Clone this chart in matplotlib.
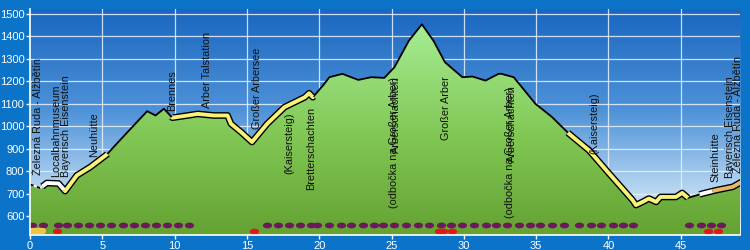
import numpy as np
import matplotlib
matplotlib.use('Agg')
import matplotlib.pyplot as plt
from matplotlib.path import Path
from matplotlib.patches import Polygon
from matplotlib.colors import LinearSegmentedColormap

plt.rcParams['font.family'] = ['Liberation Sans', 'DejaVu Sans']

# ---- data ----
km = [0.0, 0.3, 0.7, 1.16, 1.97, 2.43, 3.24, 4.17, 5.32, 6.0, 7.18, 8.1, 8.68, 9.26,
      9.84, 10.9, 11.6, 12.7, 13.66, 13.9, 14.6, 15.35, 16.4, 17.6, 19.0, 19.3, 19.56,
      20.26, 20.7, 21.6, 22.7, 23.6, 24.5, 25.2, 26.2, 27.1, 27.9, 28.7, 29.9, 30.6,
      31.5, 32.4, 32.6, 33.45, 34.95, 36.1, 37.27, 38.66, 40.05, 41.67, 41.9, 42.36,
      42.8, 43.3, 43.6, 44.67, 45.1, 45.5, 46.5, 47.45, 48.6, 49.2]
elev = [740, 735, 724, 747, 745, 711, 781, 818, 874, 922, 1003, 1066, 1047, 1077,
        1037, 1047, 1054, 1047, 1047, 1010, 973, 929, 1010, 1084, 1128, 1146, 1128,
        1180, 1217, 1232, 1205, 1217, 1214, 1261, 1379, 1452, 1379, 1283, 1217, 1220,
        1202, 1232, 1232, 1217, 1099, 1040, 966, 892, 789, 671, 649, 663,
        678, 663, 685, 685, 703, 681, 700, 715, 730, 752]

seg_start = [0.85, 2.35, 9.8, 37.2, 46.3, 47.2]
seg_end = [2.35, 5.35, 19.6, 45.5, 47.2, 49.2]
seg_color = ['#ffffff', '#f8f27a', '#f8f27a', '#f8f27a', '#ffffff', '#e9b86a']

label_km = [0.55, 2.15, 4.42, 9.84, 12.25, 15.67, 17.97, 19.42, 25.15, 25.3,
            28.75, 33.2, 33.35, 39.0, 47.4, 48.4, 48.95]
label_bottom = [781, 773, 861, 1069, 1081, 988, 786, 715, 635, None,
                939, 591, None, 874, 752, 768, 790]
label_top = [None, None, None, None, None, None, None, None, None, 1224,
             None, None, 1180, None, None, None, None]
label_text = ['Železná Ruda - Alžbětín', 'Localbahnmuseum\nBayerisch Eisenstein',
              'Neuhütte', 'Brennes', 'Arber Talstation', 'Großer Arbersee',
              '(Kaisersteig)', 'Bretterschachten', '(odbočka na Großer Arber)',
              'Arberschachten', 'Großer Arber', '(odbočka na Großer Arber)',
              'Arberschachten', '(Kaisersteig)', 'Steinhütte', 'Bayerisch Eisenstein',
              'Železná Ruda - Alžbětín']

purple_km = [0.16, 0.92, 1.97, 2.55, 3.35, 4.1, 4.86, 5.63, 6.4, 7.17, 7.94, 8.7,
             9.47, 10.24, 11.0, 16.4, 17.15, 17.9, 18.7, 19.45, 19.86, 20.7, 21.5,
             22.2, 23.0, 23.8, 24.4, 25.2, 26.0, 26.85, 27.6, 28.4, 29.1, 29.9,
             30.7, 31.5, 32.25, 33.0, 33.8, 34.6, 35.3, 36.1, 36.9, 37.96, 38.8,
             39.5, 40.3, 41.0, 41.7, 45.6, 46.4, 47.1, 47.8]
red_km = [1.9, 15.5, 28.3, 28.55, 29.2, 46.9, 47.6]
orange_span = [0.15, 0.9]

xmax = 49.1
ymin, ymax = 516, 1520

# ---- figure ----
fig = plt.figure(figsize=(7.5, 2.5), dpi=100, facecolor='#0b74c9')
ax = fig.add_axes([0.04, 0.06, 0.9467, 0.904])
ax.set_xlim(0, xmax)
ax.set_ylim(ymin, ymax)

# sky gradient
sky = LinearSegmentedColormap.from_list('sky', [(0, '#f0f7fd'), (0.22, '#b2d3f0'),
                                                (0.55, '#4e92d8'), (1, '#1a66c0')])
grad = np.linspace(0, 1, 256).reshape(-1, 1)
ax.imshow(grad, cmap=sky, extent=[0, xmax, ymin, ymax], origin='lower',
          aspect='auto', zorder=0)

# grid
for y in range(600, 1501, 100):
    ax.axhline(y, color='#e8f2fc', lw=0.9, alpha=0.85, zorder=1)
for x in range(5, 50, 5):
    ax.axvline(x, color='#e8f2fc', lw=0.9, alpha=0.85, zorder=1)

# ground with gradient
kx = np.array(km)
ey = np.array(elev)
poly_xy = np.vstack([np.column_stack([kx, ey]), [[kx[-1], ymin], [kx[0], ymin]]])
poly = Polygon(poly_xy, closed=True, facecolor='none', edgecolor='none')
ax.add_patch(poly)
ground = LinearSegmentedColormap.from_list('ground', [(0, '#64a232'), (0.45, '#80c653'),
                                                      (1, '#a6ee96')])
im = ax.imshow(grad, cmap=ground, extent=[0, xmax, ymin, 1460], origin='lower',
               aspect='auto', zorder=2)
im.set_clip_path(poly)

# profile line
ax.plot(kx, ey, color='black', lw=1.3, zorder=3)
mask0 = kx <= seg_start[0]
xs0 = np.append(kx[mask0], seg_start[0])
ax.plot(xs0, np.interp(xs0, kx, ey), color='white', lw=1.6, zorder=3.5)
ax.plot(xs0, np.interp(xs0, kx, ey), color='black', lw=1.3, ls=(0, (2, 2)), zorder=3.6)

for s, e, c in zip(seg_start, seg_end, seg_color):
    inner = kx[(kx > s) & (kx < e)]
    xs = np.concatenate([[s], inner, [e]])
    ys = np.interp(xs, kx, ey)
    ax.plot(xs, ys, color='black', lw=4.8, zorder=4, solid_capstyle='butt')
    ax.plot(xs, ys, color=c, lw=2.8, zorder=5, solid_capstyle='butt')

# labels
for x, b, t, txt in zip(label_km, label_bottom, label_top, label_text):
    if b is not None:
        ax.text(x, b, txt, rotation=90, ha='center', va='bottom', fontsize=7.8,
                color='#111111', zorder=6, multialignment='left', linespacing=0.95)
    else:
        ax.text(x, t, txt, rotation=90, ha='center', va='top', fontsize=7.8,
                color='#111111', zorder=6)

# dots
theta = np.linspace(0, 2 * np.pi, 40)
ell = Path(np.column_stack([1.6 * np.cos(theta), np.sin(theta)]))
ax.scatter(purple_km, [561] * len(purple_km), marker=ell, s=44, color='#6c1a5c',
           linewidths=0, zorder=6)
ax.scatter(red_km, [533] * len(red_km), marker=ell, s=44, color='#e01818',
           linewidths=0, zorder=6)
ax.plot(orange_span, [533, 533], color='#f2c344', lw=4.5, solid_capstyle='round', zorder=6)

# axes styling
for side in ['top', 'right']:
    ax.spines[side].set_visible(False)
for side in ['left', 'bottom']:
    ax.spines[side].set_color('white')
    ax.spines[side].set_linewidth(1.2)
    ax.spines[side].set_zorder(7)
ax.set_xticks(range(0, 50, 5))
ax.set_yticks(range(600, 1501, 100))
ax.tick_params(colors='white', labelsize=8, length=3, width=1, pad=1)
for lab in ax.get_xticklabels() + ax.get_yticklabels():
    lab.set_color('white')

fig.savefig('out.png', dpi=100, facecolor=fig.get_facecolor())
